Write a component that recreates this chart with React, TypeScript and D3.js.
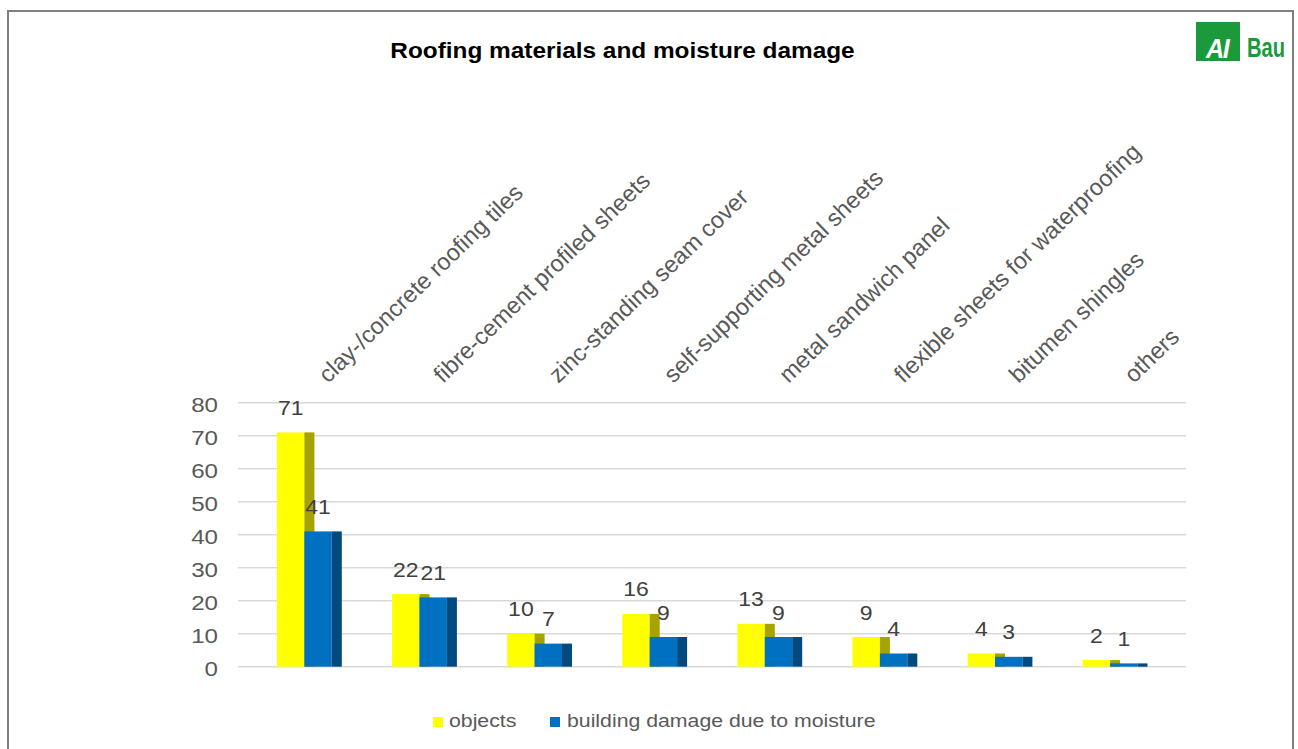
import React from "react";
import * as d3 from "d3";

const categories = [
  "clay-/concrete roofing tiles",
  "fibre-cement profiled sheets",
  "zinc-standing seam cover",
  "self-supporting metal sheets",
  "metal sandwich panel",
  "flexible sheets for waterproofing",
  "bitumen shingles",
  "others",
];
const objects = [71, 22, 10, 16, 13, 9, 4, 2];
const damage = [41, 21, 7, 9, 9, 4, 3, 1];
const yTicks = [0, 10, 20, 30, 40, 50, 60, 70, 80];
const seriesNames = ["objects", "building damage due to moisture"];

const W = 1298;
const H = 749;
const SX = 1.15;
const FONT = "'Liberation Sans', Arial, Helvetica, sans-serif";

export default function App() {
  const x0 = 238;
  const band = 115.1;
  const x = d3.scaleBand<string>().domain(categories).range([x0, x0 + band * categories.length]);
  const y = d3.scaleLinear().domain([0, 80]).range([666.7, 402.7]);
  const barW = 27.4;
  const depth = 10;
  const off = 39;

  const yellow = "#ffff00";
  const yellowSide = "#a6a300";
  const blue = "#0070c0";
  const blueSide = "#004a80";
  const green = "#1a9a3a";

  return (
    <svg width={W} height={H} style={{ position: "fixed", left: 0, top: 0, background: "#fff" }} fontFamily={FONT}>
      <rect x={0} y={0} width={W} height={H} fill="#fff" />
      <rect x={8} y={11} width={1285} height={800} fill="none" stroke="#808080" strokeWidth={2} />
      {/* title */}
      <text transform={`translate(622.5,58) scale(${SX},1)`} textAnchor="middle" fontSize={21.2} fontWeight="bold" fill="#000">
        Roofing materials and moisture damage
      </text>
      {/* logo */}
      <rect x={1196} y={22} width={44} height={39} fill={green} />
      <text transform="translate(1206,58) scale(0.9,1)" fontSize={28} fontWeight="bold" fontStyle="italic" fill="#fff" letterSpacing={-1.5}>
        AI
      </text>
      <text transform="translate(1247,57) scale(0.72,1)" fontSize={28} fontWeight="bold" fill={green}>
        Bau
      </text>
      {/* gridlines */}
      {yTicks.map((t) => (
        <g key={t}>
          <line x1={238} x2={1186} y1={y(t)} y2={y(t)} stroke="#d9d9d9" strokeWidth={1.6} />
          <text transform={`translate(218,${y(t) + 9.3}) scale(${SX},1)`} textAnchor="end" fontSize={21} fill="#595959">
            {t}
          </text>
        </g>
      ))}
      {/* bars */}
      {categories.map((c, i) => {
        const bx = (x(c) as number) + off;
        const yo = y(objects[i]);
        const yd = y(damage[i]);
        const b0 = y(0);
        const bx2 = bx + barW;
        return (
          <g key={c}>
            <rect x={bx} y={yo} width={barW} height={b0 - yo} fill={yellow} />
            <rect x={bx + barW} y={yo} width={depth} height={b0 - yo} fill={yellowSide} />
            <rect x={bx2} y={yd} width={barW} height={b0 - yd} fill={blue} />
            <rect x={bx2 + barW} y={yd} width={depth} height={b0 - yd} fill={blueSide} />
            <text transform={`translate(${bx + barW / 2},${yo - 17.5}) scale(${SX},1)`} textAnchor="middle" fontSize={20} fill="#404040">
              {objects[i]}
            </text>
            <text transform={`translate(${bx2 + barW / 2},${yd - 17.5}) scale(${SX},1)`} textAnchor="middle" fontSize={20} fill="#404040">
              {damage[i]}
            </text>
            <text transform={`translate(${bx + 51},384) rotate(-44)`} fontSize={23.5} fill="#595959">
              {c}
            </text>
          </g>
        );
      })}
      {/* legend */}
      <rect x={433} y={717} width={10} height={10} fill={yellow} />
      <text transform={`translate(449,727) scale(${SX},1)`} fontSize={18.5} fill="#595959">
        {seriesNames[0]}
      </text>
      <rect x={550} y={717} width={10} height={10} fill={blue} />
      <text transform={`translate(567,727) scale(${SX},1)`} fontSize={18.5} fill="#595959">
        {seriesNames[1]}
      </text>
    </svg>
  );
}
